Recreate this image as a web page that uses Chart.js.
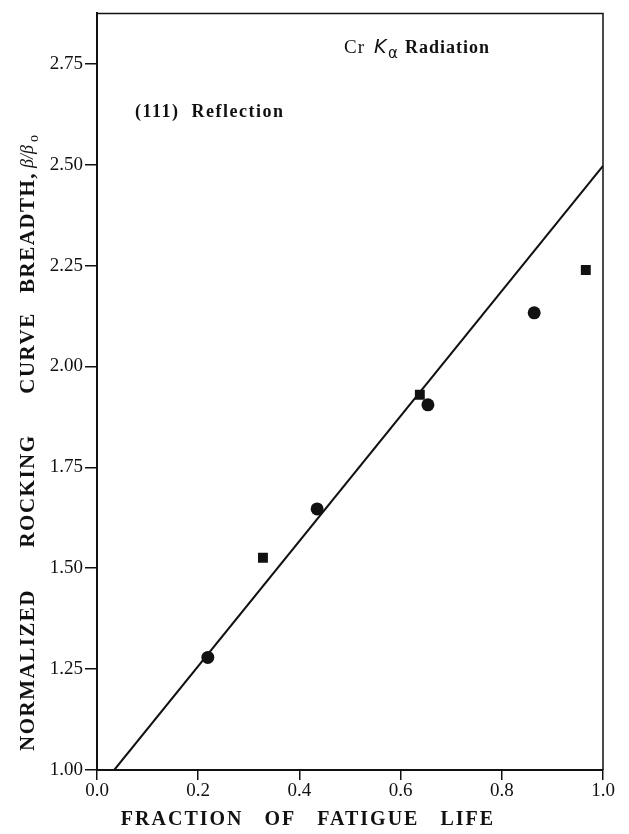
<!DOCTYPE html>
<html>
<head>
<meta charset="utf-8">
<script src="https://cdn.jsdelivr.net/npm/chart.js@4"></script>
<style>
  html, body { margin: 0; padding: 0; background: #fff; }
  #wrap { width: 629px; height: 834px; position: relative; }
</style>
</head>
<body>
<div id="wrap"><canvas id="chart"></canvas></div>
<script>
// fraction of fatigue life vs normalized rocking curve breadth
const circleX = [0.219, 0.435, 0.654, 0.864];
const circleY = [1.279, 1.647, 1.905, 2.133];
const squareX = [0.328, 0.638, 0.966];
const squareY = [1.526, 1.930, 2.239];
const fitX = [0.034, 1.0];
const fitY = [1.0, 2.497];
const xTicks = [0, 0.2, 0.4, 0.6, 0.8, 1.0];
const yTicks = [1.0, 1.25, 1.5, 1.75, 2.0, 2.25, 2.5, 2.75];

const pts = (xs, ys) => xs.map((x, i) => ({ x: x, y: ys[i] }));
const SERIF = '"Liberation Serif", "DejaVu Serif", serif';

// frame on top/right plus the free text
const decor = {
    id: 'decor',
    afterDraw(chart) {
        const ctx = chart.ctx;
        const a = chart.chartArea;
        ctx.save();
        ctx.strokeStyle = '#111';
        ctx.lineWidth = 1.5;
        ctx.beginPath();
        ctx.moveTo(a.left, a.top);
        ctx.lineTo(a.right, a.top);
        ctx.lineTo(a.right, a.bottom);
        ctx.stroke();

        ctx.fillStyle = '#111';
        ctx.textBaseline = 'alphabetic';
        ctx.textAlign = 'left';

        // Cr K_alpha Radiation
        ctx.font = '19px ' + SERIF;
        ctx.letterSpacing = '1px';
        ctx.fillText('Cr', 344, 53);
        ctx.letterSpacing = '0px';
        ctx.font = 'italic 19px "DejaVu Sans", sans-serif';
        ctx.fillText('K', 374, 53);
        ctx.font = '15px "DejaVu Sans", sans-serif';
        ctx.fillText('\u03b1', 388, 58);
        ctx.font = 'bold 18px ' + SERIF;
        ctx.letterSpacing = '1px';
        ctx.fillText('Radiation', 405, 53);

        ctx.font = 'bold 18px ' + SERIF;
        ctx.letterSpacing = '1.5px';
        ctx.fillText('(111)  Reflection', 135, 117);

        // x title
        ctx.textAlign = 'center';
        ctx.font = 'bold 20px ' + SERIF;
        ctx.letterSpacing = '2px';
        ctx.fillText('FRACTION   OF   FATIGUE   LIFE', 308, 825);

        // y title, rotated, word by word
        ctx.save();
        ctx.translate(34, 0);
        ctx.rotate(-Math.PI / 2);
        ctx.font = 'bold 21px ' + SERIF;
        ctx.letterSpacing = '1.5px';
        ctx.fillText('NORMALIZED', -670, 0);
        ctx.fillText('ROCKING', -491, 0);
        ctx.fillText('CURVE', -353, 0);
        ctx.textAlign = 'left';
        ctx.fillText('BREADTH,', -293, 0);
        ctx.letterSpacing = '0px';
        ctx.font = 'italic 18px ' + SERIF;
        ctx.fillText('\u03b2/\u03b2', -168, -1);
        ctx.font = '14px ' + SERIF;
        ctx.fillText('o', -142, 4);
        ctx.restore();

        ctx.restore();
    }
};

new Chart(document.getElementById('chart'), {
    type: 'scatter',
    data: {
        datasets: [{
            label: 'fit',
            type: 'line',
            data: pts(fitX, fitY),
            borderColor: '#111',
            borderWidth: 2,
            pointRadius: 0,
            fill: false,
            tension: 0
        }, {
            label: 'circles',
            data: pts(circleX, circleY),
            pointStyle: 'circle',
            pointRadius: 6.5,
            backgroundColor: '#111',
            borderColor: '#111',
            borderWidth: 0
        }, {
            label: 'squares',
            data: pts(squareX, squareY),
            pointStyle: 'rect',
            pointRadius: 7,
            backgroundColor: '#111',
            borderColor: '#111',
            borderWidth: 0
        }]
    },
    options: {
        responsive: true,
        maintainAspectRatio: false,
        animation: false,
        layout: { padding: { top: 10, right: 26, left: 0, bottom: 0 } },
        plugins: {
            legend: { display: false },
            tooltip: { enabled: false }
        },
        scales: {
            x: {
                type: 'linear',
                min: 0,
                max: 1,
                afterBuildTicks: s => { s.ticks = xTicks.map(v => ({ value: v })); },
                afterFit: s => { s.height = 64; },
                border: { display: true, color: '#111', width: 2 },
                grid: { drawOnChartArea: false, drawTicks: true, tickLength: 10, color: '#111', lineWidth: 1.5 },
                ticks: {
                    color: '#111',
                    padding: 0,
                    maxRotation: 0,
                    font: { family: SERIF, size: 19 },
                    callback: v => v.toFixed(1)
                }
            },
            y: {
                type: 'linear',
                min: 1,
                max: 2.875,
                afterBuildTicks: s => { s.ticks = yTicks.map(v => ({ value: v })); },
                afterFit: s => { s.width = 97; },
                border: { display: true, color: '#111', width: 2 },
                grid: { drawOnChartArea: false, drawTicks: true, tickLength: 12, color: '#111', lineWidth: 1.5 },
                ticks: {
                    color: '#111',
                    padding: 2,
                    font: { family: SERIF, size: 19 },
                    callback: v => v.toFixed(2)
                }
            }
        }
    },
    plugins: [decor]
});
</script>
</body>
</html>
